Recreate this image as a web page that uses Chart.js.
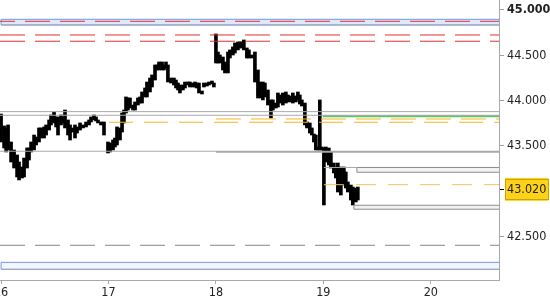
<!DOCTYPE html>
<html>
<head>
<meta charset="utf-8">
<script src="https://cdn.jsdelivr.net/npm/chart.js@4.4.1/dist/chart.umd.min.js"></script>
<style>
  html, body { margin: 0; padding: 0; background: #fff; }
  #wrap { width: 550px; height: 300px; position: relative; }
</style>
</head>
<body>
<div id="wrap"><canvas id="c"></canvas></div>
<script>
// ---- data ----
const times = [
  16.000,16.028,16.047,16.065,16.093,16.121,16.149,16.167,16.195,16.214,
  16.242,16.260,16.279,16.307,16.326,16.353,16.372,16.400,16.419,16.447,
  16.465,16.493,16.512,16.530,16.558,16.577,16.595,16.623,16.642,16.660,
  16.688,16.707,16.735,16.763,16.791,16.819,16.837,16.865,16.884,16.902,
  16.930,16.958,
  16.995,17.014,17.042,17.060,17.079,17.107,17.126,17.144,17.163,17.181,
  17.200,17.228,17.247,17.274,17.293,17.312,17.340,17.358,17.386,17.405,
  17.433,17.451,17.470,17.498,17.516,17.535,17.553,17.581,17.609,17.628,
  17.647,17.665,17.693,17.712,17.740,17.758,17.786,17.805,17.823,17.842,
  17.870,17.888,17.916,17.935,17.963,17.981,
  18.000,18.019,18.037,18.065,18.084,18.112,18.130,18.158,18.177,18.205,
  18.223,18.242,18.260,18.288,18.307,18.335,18.363,18.391,18.409,18.437,
  18.456,18.484,18.512,18.530,18.558,18.577,18.605,18.623,18.651,18.670,
  18.698,18.716,18.744,18.763,18.781,18.800,18.828,18.847,18.874,18.893,
  18.912,18.930,18.949,18.967,18.986,
  19.005,19.023,19.051,19.070,19.098,19.116,19.135,19.163,19.191,19.209,
  19.228,19.256,19.274,19.302,19.321
];
const highs = [
  43.852,43.720,43.698,43.731,43.543,43.455,43.400,43.322,43.267,43.366,
  43.477,43.477,43.543,43.620,43.598,43.698,43.698,43.709,43.731,43.786,
  43.841,43.874,43.819,43.819,43.841,43.819,43.896,43.786,43.731,43.698,
  43.731,43.709,43.753,43.731,43.764,43.786,43.819,43.841,43.819,43.786,
  43.764,43.764,
  43.543,43.532,43.565,43.587,43.709,43.698,43.863,43.896,44.040,44.029,
  44.029,43.951,43.985,44.029,44.040,44.095,44.139,44.205,44.249,44.283,
  44.393,44.393,44.426,44.426,44.393,44.426,44.393,44.249,44.249,44.227,
  44.194,44.172,44.172,44.205,44.205,44.205,44.194,44.205,44.194,44.194,
  44.106,44.194,44.194,44.205,44.216,44.194,
  44.735,44.536,44.503,44.481,44.426,44.536,44.559,44.592,44.636,44.647,
  44.647,44.647,44.669,44.581,44.559,44.503,44.536,44.338,44.205,44.205,
  44.194,44.117,44.007,44.007,43.973,44.084,44.062,44.084,44.095,44.062,
  44.051,44.084,44.051,44.095,44.062,44.007,43.973,43.764,43.753,43.698,
  43.631,43.620,43.488,44.007,43.488,
  43.477,43.488,43.477,43.433,43.311,43.267,43.311,43.267,43.267,43.212,
  43.102,43.068,43.046,43.035,43.046
];
const lows = [
  43.543,43.477,43.433,43.455,43.322,43.256,43.157,43.124,43.146,43.157,
  43.256,43.344,43.433,43.455,43.510,43.543,43.587,43.587,43.620,43.675,
  43.731,43.753,43.709,43.620,43.731,43.753,43.698,43.620,43.565,43.653,
  43.587,43.642,43.675,43.698,43.709,43.731,43.764,43.786,43.775,43.753,
  43.731,43.620,
  43.422,43.433,43.455,43.488,43.510,43.565,43.653,43.753,43.863,43.896,
  43.918,43.896,43.896,43.951,43.973,43.973,44.040,44.040,44.095,44.150,
  44.227,44.338,44.338,44.338,44.338,44.360,44.205,44.194,44.172,44.139,
  44.117,44.084,44.117,44.139,44.172,44.150,44.150,44.150,44.139,44.084,
  44.073,44.150,44.161,44.172,44.183,44.150,
  44.415,44.415,44.415,44.338,44.305,44.305,44.470,44.503,44.525,44.559,
  44.581,44.581,44.559,44.470,44.470,44.470,44.205,44.029,44.029,44.007,
  44.040,43.951,43.808,43.896,43.918,43.929,43.973,43.951,43.973,43.985,
  43.985,43.973,43.985,44.007,43.962,43.940,43.731,43.698,43.642,43.620,
  43.543,43.455,43.455,43.455,43.455,
  42.848,43.322,43.289,43.256,43.201,43.146,42.991,42.958,43.068,43.035,
  42.991,42.903,42.848,42.881,42.903
];
const dayTicks = [16, 17, 18, 19, 20];
const priceTicks = [42.5, 43.02, 43.5, 44.0, 44.5, 45.0];
const lastPrice = 43.02;

// horizontal levels (price values) and where they start (day)
const topBand = [44.897, 44.834];          // blue band top / bottom
const topBandDash = 44.875;                // red dashed inside band
const redDashLevels = [44.724, 44.655];
const graySolidLevels = [43.878, 43.838];
const greenLevel = [43.828, 18.995];       // value, start day
const orangeUpper = [43.797, 18.000];
const orangeLower = [43.761, 17.005];
const midGrayLeft = [43.441, 18.000];      // value, end day
const midGrayRight = [43.436, 18.000];     // value, start day
const upperBox = [43.262, 43.209, 19.312]; // top, bottom, start day
const upperBoxLine = [43.262, 19.005];
const orangeThin = [43.072, 19.005];
const lowerBox = [42.845, 42.801, 19.284];
const grayDashLevel = 42.403;
const bottomBand = [42.215, 42.138];

const X_MIN = 15.99, X_MAX = 20.635;
const Y_MIN = 42.02, Y_MAX = 45.11;
const FONT = "'DejaVu Sans Condensed', 'DejaVu Sans', sans-serif";

function hline(v, x0, x1, color, width, dash, offset) {
  return {
    type: 'line', data: [{x: x0, y: v}, {x: x1, y: v}],
    borderColor: color, borderWidth: width, borderDash: dash || [],
    borderDashOffset: offset || 0, pointRadius: 0, fill: false, order: 0
  };
}
function rect(top, bottom, x0, x1, stroke, fillc) {
  return {
    type: 'line',
    data: [{x: x0, y: top}, {x: x1, y: top}, {x: x1, y: bottom}, {x: x0, y: bottom}, {x: x0, y: top}],
    borderColor: stroke, backgroundColor: fillc, borderWidth: 1,
    pointRadius: 0, fill: 'shape', tension: 0, order: 1
  };
}

const datasets = [
  {
    type: 'bar',
    data: times.map((t, i) => ({x: t, y: [lows[i], highs[i]]})),
    backgroundColor: '#000', borderWidth: 0, barThickness: 3,
    order: 10
  },
  // top blue band
  rect(topBand[0], topBand[1], 16.0, X_MAX + 0.05, '#6f98ea', '#dfe8fb'),
  hline(topBand[1], 16.0, X_MAX, '#a8a8a8', 1),
  hline(topBandDash, X_MIN, X_MAX, '#e03030', 1, [25, 10], 10),
  // red dashed pair
  hline(redDashLevels[0], X_MIN, X_MAX, '#e03030', 1, [25, 10], 0),
  hline(redDashLevels[1], X_MIN, X_MAX, '#e03030', 1, [25, 10], 0),
  // gray solid pair
  hline(graySolidLevels[0], X_MIN, X_MAX, '#a8a8a8', 1),
  hline(graySolidLevels[1], X_MIN, X_MAX, '#a8a8a8', 1),
  // green
  hline(greenLevel[0], greenLevel[1], X_MAX, '#5cc85c', 2),
  // orange dashed
  hline(orangeUpper[0], orangeUpper[1], X_MAX, '#f5b425', 1, [25, 10], 0),
  hline(orangeLower[0], orangeLower[1], X_MAX, '#f5b425', 1, [24, 11], 0),
  // middle gray
  hline(midGrayLeft[0], X_MIN, midGrayLeft[1], '#a8a8a8', 1),
  hline(midGrayRight[0], midGrayRight[1], X_MAX, '#a8a8a8', 2),
  // upper box
  hline(upperBoxLine[0], upperBoxLine[1], upperBox[2], '#a8a8a8', 1),
  rect(upperBox[0], upperBox[1], upperBox[2], X_MAX + 0.05, '#8c8c8c', '#f2f2f2'),
  // thin orange dashed
  hline(orangeThin[0], orangeThin[1], X_MAX, '#f3c060', 1, [20, 12], 0),
  // lower box
  rect(lowerBox[0], lowerBox[1], lowerBox[2], X_MAX + 0.05, '#8c8c8c', '#f2f2f2'),
  // gray dashed
  hline(grayDashLevel, X_MIN, X_MAX, '#888888', 1, [25, 10], 0),
  // bottom band
  rect(bottomBand[0], bottomBand[1], 16.0, X_MAX + 0.05, '#6f98ea', '#f2f6fe'),
  hline(bottomBand[1], 16.0, X_MAX, '#a8a8a8', 1)
];

const priceBoxPlugin = {
  id: 'priceBox',
  afterDraw(chart) {
    const s = chart.scales.y;
    const ctx = chart.ctx;
    const y = Math.round(s.getPixelForValue(lastPrice)) + 0.5;
    ctx.save();
    ctx.font = '12.5px ' + FONT;
    const w = ctx.measureText(lastPrice.toFixed(3)).width;
    const x0 = s.left + 5 + 3 - 2.5;
    ctx.strokeStyle = '#c9a400';
    ctx.lineWidth = 1;
    ctx.strokeRect(Math.round(x0) + 0.5, y - 10, Math.round(w + 4), 20);
    ctx.restore();
  }
};

new Chart(document.getElementById('c'), {
  type: 'bar',
  data: { datasets },
  plugins: [priceBoxPlugin],
  options: {
    responsive: true, maintainAspectRatio: false, animation: false,
    layout: { padding: 0 },
    plugins: { legend: { display: false }, tooltip: { enabled: false } },
    scales: {
      x: {
        type: 'linear', position: 'bottom', min: X_MIN, max: X_MAX,
        offset: false,
        grid: { drawOnChartArea: false, offset: false, tickLength: 4, tickColor: '#a8a8a8' },
        border: { color: '#a8a8a8' },
        afterBuildTicks(axis) { axis.ticks = dayTicks.map(v => ({value: v})); },
        afterFit(scale) { scale.height = 20; scale.paddingLeft = 0; scale.paddingRight = 0; },
        ticks: {
          autoSkip: false, maxRotation: 0, padding: 1,
          color: '#222', font: { family: FONT, size: 12.5 },
          callback: v => String(v)
        }
      },
      y: {
        type: 'linear', position: 'right', min: Y_MIN, max: Y_MAX,
        grid: {
          drawOnChartArea: false, tickLength: 5,
          tickColor: ctx => (ctx.tick && ctx.tick.value === lastPrice) ? '#000' : '#a0a0a0'
        },
        border: { color: '#a8a8a8' },
        afterBuildTicks(axis) { axis.ticks = priceTicks.map(v => ({value: v})); },
        afterFit(scale) { scale.width = 51; scale.paddingTop = 0; scale.paddingBottom = 0; },
        ticks: {
          padding: 3, color: '#222',
          font: ctx => ({ family: FONT, size: 12.5,
            weight: (ctx.tick && ctx.tick.value === 45) ? 'bold' : 'normal' }),
          callback: v => Number(v).toFixed(3),
          showLabelBackdrop: ctx => !!(ctx.tick && ctx.tick.value === lastPrice),
          backdropColor: '#ffd21a',
          backdropPadding: { top: 4, bottom: 4, left: 2, right: 2 }
        }
      }
    }
  }
});
</script>
</body>
</html>
